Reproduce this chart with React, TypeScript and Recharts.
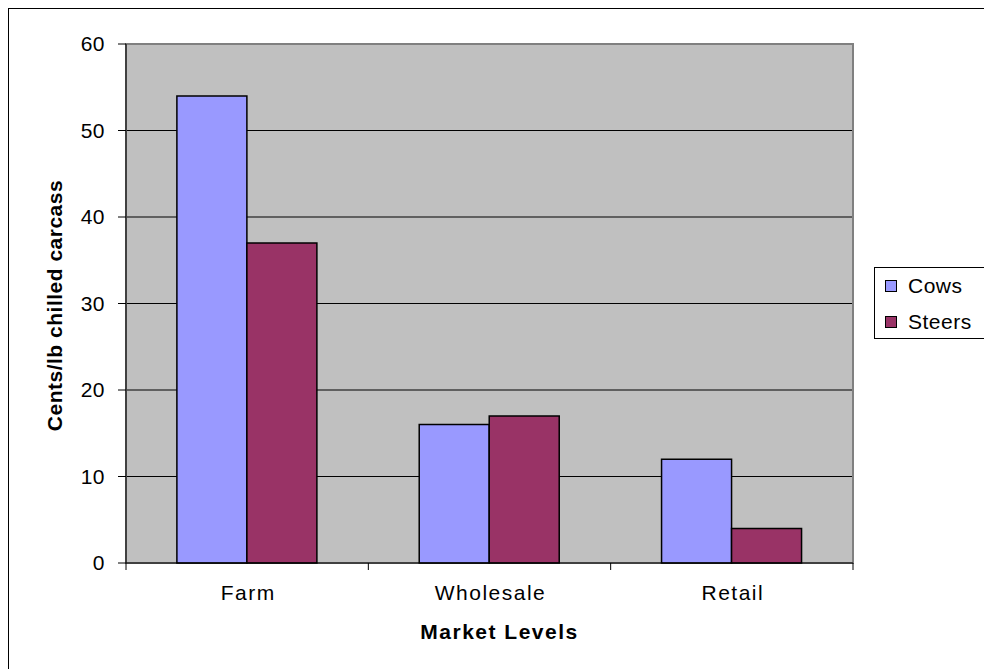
import React from 'react'
import {
  BarChart,
  Bar,
  XAxis,
  YAxis,
  CartesianGrid,
  Legend,
  ReferenceArea,
} from 'recharts'

// --- data ---
const marketLevels = ['Farm', 'Wholesale', 'Retail']
const cows = [54, 16, 12]
const steers = [37, 17, 4]
const yTicks = [0, 10, 20, 30, 40, 50, 60]

const chartData = marketLevels.map((level, i) => ({
  level,
  Cows: cows[i],
  Steers: steers[i],
}))

const FONT = '"Liberation Sans", Arial, sans-serif'
const X_TICK_SIZE = 7
const X_TICK_MARGIN = 15

// category labels plus tick marks on the category boundaries
const XTick = (props: any) => {
  const { x, y, payload, index, visibleTicksCount, width } = props
  const band = width / visibleTicksCount
  const axisY = y - X_TICK_SIZE - X_TICK_MARGIN
  const left = x - band / 2
  const right = x + band / 2
  return (
    <g>
      <line x1={left} x2={left} y1={axisY} y2={axisY + X_TICK_SIZE} stroke="#000" />
      {index === visibleTicksCount - 1 && (
        <line x1={right} x2={right} y1={axisY} y2={axisY + X_TICK_SIZE} stroke="#000" />
      )}
      <text
        x={x + 1}
        y={y}
        dy="0.71em"
        textAnchor="middle"
        fontFamily={FONT}
        fontSize={21}
        letterSpacing={1.5}
        fill="#000"
      >
        {payload.value}
      </text>
    </g>
  )
}

const XLabel = ({ viewBox }: any) => (
  <text
    x={viewBox.x + viewBox.width / 2 + 10}
    y={viewBox.y + 76}
    textAnchor="middle"
    fontFamily={FONT}
    fontSize={21}
    fontWeight="bold"
    letterSpacing={1.5}
    fill="#000"
  >
    Market Levels
  </text>
)

const YLabel = ({ viewBox }: any) => {
  const cx = viewBox.x - 11
  const cy = viewBox.y + viewBox.height / 2 + 2
  return (
    <text
      x={cx}
      y={cy}
      dy="0.35em"
      transform={`rotate(-90, ${cx}, ${cy})`}
      textAnchor="middle"
      fontFamily={FONT}
      fontSize={21}
      fontWeight="bold"
      letterSpacing={0.5}
      fill="#000"
    >
      Cents/lb chilled carcass
    </text>
  )
}

const LegendBox = ({ payload }: any) => (
  <div
    style={{
      width: 130,
      height: 72,
      border: '1px solid #000',
      boxSizing: 'border-box',
      background: '#fff',
      fontFamily: FONT,
      fontSize: 21,
      letterSpacing: 0.5,
    }}
  >
    {(payload || []).map((entry: any) => (
      <div
        key={entry.value}
        style={{ height: 36, display: 'flex', alignItems: 'center', paddingLeft: 10 }}
      >
        <span
          style={{
            width: 10,
            height: 10,
            background: entry.color,
            border: '1px solid #000',
            marginRight: 11,
            display: 'inline-block',
          }}
        />
        <span>{entry.value}</span>
      </div>
    ))}
  </div>
)

export default function App() {
  return (
    <div
      style={{
        position: 'absolute',
        left: 8,
        top: 8,
        width: 976,
        height: 661,
        overflow: 'hidden',
        borderLeft: '1px solid #000',
        borderTop: '1px solid #000',
        boxSizing: 'border-box',
        background: '#fff',
      }}
    >
      <BarChart
        width={975}
        height={660}
        data={chartData}
        margin={{ top: 35, right: 131, bottom: 76, left: 57 }}
        barCategoryGap="21%"
        barGap={0}
      >
        <CartesianGrid vertical={false} stroke="#000" fill="#C0C0C0" fillOpacity={1} />
        <ReferenceArea y1={0} y2={60} fill="none" stroke="#808080" strokeWidth={2} ifOverflow="visible" />
        <Bar dataKey="Cows" fill="#9999FF" stroke="#000" strokeWidth={1.5} isAnimationActive={false} />
        <Bar dataKey="Steers" fill="#993366" stroke="#000" strokeWidth={1.5} isAnimationActive={false} />
        <XAxis
          dataKey="level"
          height={30}
          axisLine={{ stroke: '#000' }}
          tickLine={false}
          tickSize={X_TICK_SIZE}
          tickMargin={X_TICK_MARGIN}
          tick={<XTick />}
          label={<XLabel />}
        />
        <YAxis
          width={60}
          domain={[0, 60]}
          ticks={yTicks}
          interval={0}
          axisLine={{ stroke: '#000' }}
          tickLine={{ stroke: '#000' }}
          tickSize={8}
          tickMargin={13}
          tick={{ fill: '#000', fontFamily: FONT, fontSize: 21, letterSpacing: 0.5 }}
          label={<YLabel />}
        />
        <Legend
          layout="vertical"
          align="center"
          verticalAlign="middle"
          content={<LegendBox />}
          wrapperStyle={{ left: 865, top: 258, width: 130, height: 72 }}
        />
      </BarChart>
    </div>
  )
}
